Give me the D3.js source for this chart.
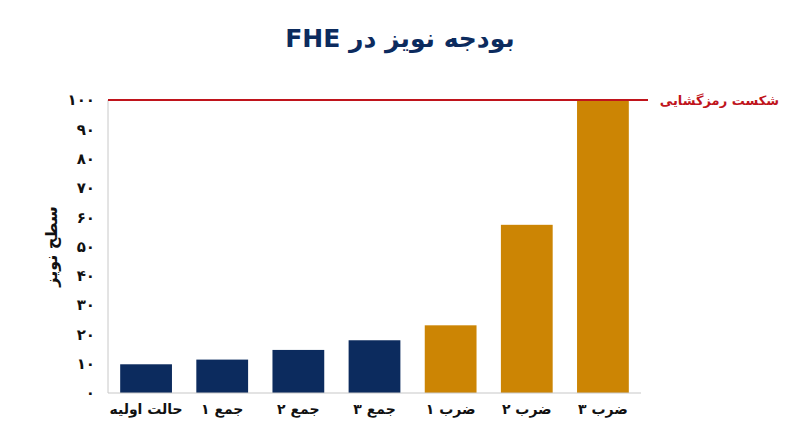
<!DOCTYPE html>
<html>
<head>
<meta charset="utf-8">
<script src="https://cdn.jsdelivr.net/npm/d3@7"></script>
<style>
  body { margin: 0; background: #fff; }
  svg { display: block; font-family: "DejaVu Sans", sans-serif; }
</style>
</head>
<body>
<div id="chart"></div>
<script>
// داده‌ها
const categories = ["حالت اولیه", "جمع ۱", "جمع ۲", "جمع ۳", "ضرب ۱", "ضرب ۲", "ضرب ۳"];
const noiseValues = [9.8, 11.4, 14.7, 18, 23.1, 57.4, 100];
const barKinds = ["init", "add", "add", "add", "mul", "mul", "mul"];
const yTicks = [0, 10, 20, 30, 40, 50, 60, 70, 80, 90, 100];
const threshold = 100;

const COLORS = { init: "#0c2b5e", add: "#0c2b5e", mul: "#cc8504" };

const width = 800;
const height = 447;
const margin = { top: 100, bottom: 54, right: 159, left: 108 };

const faDigits = n => String(n).replace(/\d/g, d => "۰۱۲۳۴۵۶۷۸۹"[d]);

const svg = d3.select("#chart")
    .append("svg")
    .attr("width", width)
    .attr("height", height);

const escalaX = d3.scaleBand()
    .domain(categories)
    .range([margin.left, width - margin.right])
    .paddingInner(0.32)
    .paddingOuter(0.16);

const escalaY = d3.scaleLinear()
    .domain([0, 100])
    .range([height - margin.bottom, margin.top]);

// title
svg.append("text")
    .attr("x", width / 2)
    .attr("y", 47)
    .attr("text-anchor", "middle")
    .attr("direction", "rtl")
    .style("font-size", "25px")
    .style("font-weight", "bold")
    .style("fill", "#0c2b5e")
    .text("بودجه نویز در FHE");

// bars
svg.append("g")
    .selectAll("rect")
    .data(categories)
    .join("rect")
    .attr("x", d => escalaX(d))
    .attr("width", escalaX.bandwidth())
    .attr("y", (d, i) => escalaY(noiseValues[i]))
    .attr("height", (d, i) => escalaY(0) - escalaY(noiseValues[i]))
    .attr("fill", (d, i) => COLORS[barKinds[i]]);

// axes lines
svg.append("line")
    .attr("x1", margin.left).attr("x2", margin.left)
    .attr("y1", escalaY(100)).attr("y2", escalaY(0))
    .attr("stroke", "#c8c8c8").attr("stroke-width", 1);

svg.append("line")
    .attr("x1", margin.left).attr("x2", width - margin.right)
    .attr("y1", escalaY(0)).attr("y2", escalaY(0))
    .attr("stroke", "#c8c8c8").attr("stroke-width", 1.2);

// y axis labels
const ejeY = d3.axisLeft(escalaY)
    .tickValues(yTicks)
    .tickSize(0)
    .tickPadding(13)
    .tickFormat(faDigits);

svg.append("g")
    .attr("transform", `translate(${margin.left},0)`)
    .call(ejeY)
    .call(g => g.select(".domain").remove())
    .selectAll("text")
    .style("font-family", "DejaVu Sans, sans-serif")
    .style("font-size", "15px")
    .style("font-weight", "bold")
    .style("fill", "#111");

// x axis labels
const ejeX = d3.axisBottom(escalaX).tickSize(0).tickPadding(11);
svg.append("g")
    .attr("transform", `translate(0,${escalaY(0)})`)
    .call(ejeX)
    .call(g => g.select(".domain").remove())
    .selectAll("text")
    .attr("direction", "rtl")
    .style("font-family", "DejaVu Sans, sans-serif")
    .style("font-size", "14px")
    .style("font-weight", "bold")
    .style("fill", "#111");

// y axis title
svg.append("text")
    .attr("transform", `translate(57, ${(escalaY(0) + escalaY(100)) / 2}) rotate(-90)`)
    .attr("text-anchor", "middle")
    .attr("direction", "rtl")
    .style("font-size", "16px")
    .style("font-weight", "bold")
    .style("fill", "#111")
    .text("سطح نویز");

// threshold line
svg.append("line")
    .attr("x1", margin.left)
    .attr("x2", 648)
    .attr("y1", escalaY(threshold))
    .attr("y2", escalaY(threshold))
    .attr("stroke", "#c0141c")
    .attr("stroke-width", 2);

svg.append("text")
    .attr("x", 779)
    .attr("y", escalaY(threshold) + 5)
    .attr("text-anchor", "start")
    .attr("direction", "rtl")
    .style("font-size", "13px")
    .style("font-weight", "bold")
    .style("fill", "#c0141c")
    .text("شکست رمزگشایی");
</script>
</body>
</html>
